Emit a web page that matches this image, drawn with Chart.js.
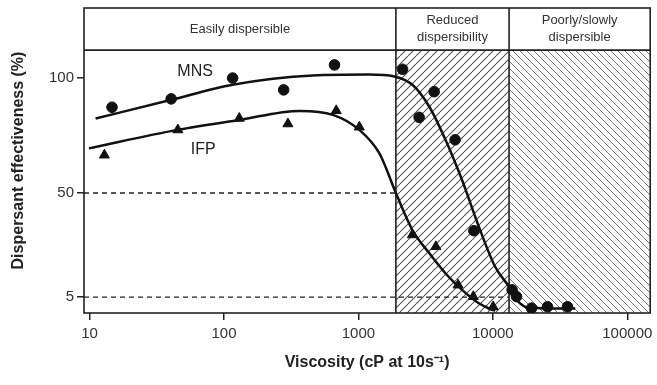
<!DOCTYPE html>
<html>
<head>
<meta charset="utf-8">
<script src="https://cdn.jsdelivr.net/npm/chart.js@4"></script>
<style>
  html, body { margin: 0; padding: 0; background: #fff; }
  #wrap { width: 657px; height: 385px; }
</style>
</head>
<body>
<div id="wrap"><canvas id="myChart" width="657" height="385"></canvas></div>
<script>
// axis ranges and ticks
const xMin = 9.1, xMax = 148000;
const yMin = -1.9, yMax = 130;
const xTicks = [10, 100, 1000, 10000, 100000];
const yTicks = [5, 50, 100];

// dispersibility zones (viscosity boundaries) and header band
const zoneEdges = [1900, 13200];
const headerBottom = 111.8;
const zoneLabels = [['Easily dispersible'], ['Reduced', 'dispersibility'], ['Poorly/slowly', 'dispersible']];

// measured points
const mnsX = [14.7, 40.5, 116, 278, 664, 2130, 3660, 2830, 5240, 7230, 13900, 15000, 19400, 25500, 35900];
const mnsY = [87.1, 90.7, 99.7, 94.6, 105.4, 103.5, 93.8, 82.7, 73.0, 33.7, 8.1, 5.2, 0.2, 0.8, 0.8];
const ifpX = [12.9, 45.4, 130, 299, 684, 1016, 2520, 3770, 5510, 7150, 10050];
const ifpY = [66.4, 77.3, 82.3, 79.9, 85.6, 78.5, 31.9, 26.8, 10.2, 5.2, 0.8];

// fitted curves
const mnsCurveX = [11.1, 40, 116, 458, 1200, 1850, 2520, 3360, 4450, 5900, 7860, 10400, 13200, 15600, 18500, 41000];
const mnsCurveY = [82.2, 90.2, 96.8, 100.8, 101.2, 100.4, 96.8, 87.4, 72.9, 55.6, 35.5, 18.1, 9.5, 2.8, 0.4, 0];
const ifpCurveX = [9.9, 45, 130, 365, 646, 1016, 1430, 1900, 2520, 3360, 4450, 5900, 7860, 9870, 10400];
const ifpCurveY = [69.3, 77.3, 81.6, 85.5, 83.8, 77.3, 67.2, 50, 34.0, 24.0, 15.2, 8.1, 2.3, -0.5, -0.9];

// reference (dashed) lines
const ref50X = [xMin, zoneEdges[0]], ref50Y = [50, 50];
const ref5X = [xMin, zoneEdges[1]], ref5Y = [5, 5];

// curve labels
const curveLabels = [{ text: 'MNS', x: 61, y: 102.4 }, { text: 'IFP', x: 70, y: 68.6 }];

function pts(xs, ys) {
    return xs.map((v, i) => ({ x: v, y: ys[i] }));
}

// small canvas used as a repeating hatch fill
function makeHatch(step, dir, color, width) {
    const c = document.createElement('canvas');
    c.width = step; c.height = step;
    const g = c.getContext('2d');
    g.strokeStyle = color;
    g.lineWidth = width;
    g.beginPath();
    for (let k = -1; k <= 1; k++) {
        if (dir > 0) {
            g.moveTo(k * step, step); g.lineTo(k * step + step, 0);
        } else {
            g.moveTo(k * step, 0); g.lineTo(k * step + step, step);
        }
    }
    g.stroke();
    return g.createPattern(c, 'repeat');
}

const font = '"Liberation Sans", Arial, sans-serif';

const zonePlugin = {
    id: 'zones',
    beforeDatasetsDraw(chart) {
        const { ctx, chartArea: a, scales: { x, y } } = chart;
        const e1 = x.getPixelForValue(zoneEdges[0]);
        const e2 = x.getPixelForValue(zoneEdges[1]);
        const yb = y.getPixelForValue(headerBottom);
        ctx.save();
        ctx.fillStyle = makeHatch(8, 1, '#555', 1.1);
        ctx.fillRect(e1, yb, e2 - e1, a.bottom - yb);
        ctx.fillStyle = makeHatch(7, -1, '#777', 1);
        ctx.fillRect(e2, yb, a.right - e2, a.bottom - yb);

        ctx.strokeStyle = '#222';
        ctx.lineWidth = 1.6;
        ctx.strokeRect(a.left, a.top, a.width, a.height);
        ctx.beginPath();
        ctx.moveTo(a.left, yb); ctx.lineTo(a.right, yb);
        ctx.moveTo(e1, a.top); ctx.lineTo(e1, a.bottom);
        ctx.moveTo(e2, a.top); ctx.lineTo(e2, a.bottom);
        ctx.stroke();

        // header texts
        const edges = [a.left, e1, e2, a.right];
        const mid = (a.top + yb) / 2;
        ctx.fillStyle = '#333';
        ctx.font = '13px ' + font;
        ctx.textAlign = 'center';
        ctx.textBaseline = 'middle';
        zoneLabels.forEach((lines, i) => {
            const cx = (edges[i] + edges[i + 1]) / 2;
            lines.forEach((t, j) => {
                ctx.fillText(t, cx, mid + (j - (lines.length - 1) / 2) * 17);
            });
        });

        // curve names
        ctx.font = '16px ' + font;
        ctx.fillStyle = '#222';
        curveLabels.forEach(l => {
            ctx.fillText(l.text, x.getPixelForValue(l.x), y.getPixelForValue(l.y));
        });
        ctx.restore();
    }
};

const ctx = document.getElementById('myChart').getContext('2d');
new Chart(ctx, {
    type: 'scatter',
    data: {
        datasets: [
            { data: pts(ref50X, ref50Y), showLine: true, borderColor: '#222', borderWidth: 1.3, borderDash: [5, 4], pointRadius: 0 },
            { data: pts(ref5X, ref5Y), showLine: true, borderColor: '#222', borderWidth: 1.3, borderDash: [5, 4], pointRadius: 0 },
            { data: pts(mnsCurveX, mnsCurveY), showLine: true, borderColor: '#111', borderWidth: 2.5, pointRadius: 0, cubicInterpolationMode: 'monotone' },
            { data: pts(ifpCurveX, ifpCurveY), showLine: true, borderColor: '#111', borderWidth: 2.5, pointRadius: 0, cubicInterpolationMode: 'monotone' },
            { data: pts(mnsX, mnsY), pointStyle: 'circle', pointRadius: 5.3, backgroundColor: '#111', borderColor: '#111' },
            { data: pts(ifpX, ifpY), pointStyle: 'triangle', pointRadius: 5.8, backgroundColor: '#111', borderColor: '#111' }
        ]
    },
    options: {
        responsive: false,
        animation: false,
        layout: { padding: { top: 8, right: 2, left: 0, bottom: 0 } },
        plugins: { legend: { display: false }, tooltip: { enabled: false } },
        scales: {
            x: {
                type: 'logarithmic',
                min: xMin, max: xMax,
                afterBuildTicks: s => { s.ticks = xTicks.map(v => ({ value: v })); },
                afterFit: s => { s.height = 72; s.paddingLeft = 0; s.paddingRight = 0; },
                grid: { drawOnChartArea: false, color: '#222', lineWidth: 1.5, tickLength: 7 },
                border: { display: false },
                ticks: { autoSkip: false, maxRotation: 0, color: '#333', padding: 5, font: { family: font, size: 15 }, callback: v => String(v) },
                title: { display: true, text: 'Viscosity (cP at 10s\u207B\u00B9)', color: '#222', font: { family: font, size: 16, weight: 'bold' }, padding: { top: 4, bottom: 13 } }
            },
            y: {
                min: yMin, max: yMax,
                afterBuildTicks: s => { s.ticks = yTicks.map(v => ({ value: v })); },
                afterFit: s => { s.width = 84; s.paddingTop = 0; s.paddingBottom = 0; },
                grid: { drawOnChartArea: false, color: '#222', lineWidth: 1.5, tickLength: 7 },
                border: { display: false },
                ticks: { autoSkip: false, color: '#333', padding: 3, font: { family: font, size: 15 }, callback: v => String(v) },
                title: { display: true, text: 'Dispersant effectiveness (%)', color: '#222', font: { family: font, size: 16, weight: 'bold' }, padding: { top: 9, bottom: 2 } }
            }
        }
    },
    plugins: [zonePlugin]
});
</script>
</body>
</html>
